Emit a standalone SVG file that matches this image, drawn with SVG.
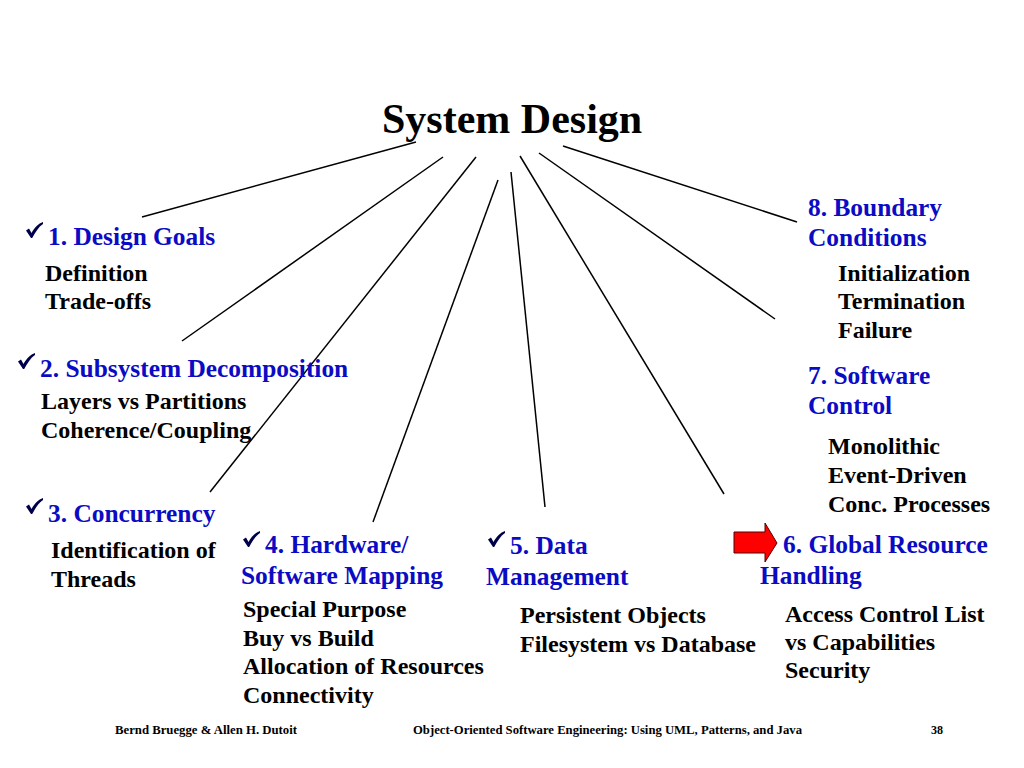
<svg xmlns="http://www.w3.org/2000/svg" width="1024" height="768" viewBox="0 0 1024 768">
<style>
text{font-family:"Liberation Serif","Times New Roman",serif;font-weight:bold}
.title{font-size:42px;fill:#000}
.h{font-size:25.4px;fill:#0b0bc4}
.b{font-size:24px;fill:#000}
.f{font-size:12px;fill:#000}
.conn line{stroke:#000;stroke-width:1.5;fill:none}
.chk{fill:#00004a}
</style>
<defs>
<path id="check" d="M0,8.5 L3,6.5 L5.5,11 C8.5,5.5 12.5,1.5 17,0 L17,2 C12.5,5 9.5,10 6.2,16 L5,16 Z"/>
</defs>
<rect width="1024" height="768" fill="#fff"/>
<g id="title"><text class="title" x="382" y="133">System Design</text></g>
<g id="connectors" class="conn">
<line x1="416" y1="142" x2="142" y2="217"/>
<line x1="443" y1="157" x2="182" y2="341"/>
<line x1="476" y1="157" x2="210" y2="492"/>
<line x1="498" y1="180" x2="373" y2="522"/>
<line x1="511" y1="172" x2="545" y2="507"/>
<line x1="520" y1="156" x2="724" y2="494"/>
<line x1="539" y1="153" x2="775" y2="319"/>
<line x1="563" y1="146" x2="797" y2="222"/>
</g>
<g id="node1">
<use href="#check" class="chk" x="26" y="222"/>
<text class="h" x="48" y="245">1. Design Goals</text>
<text class="b" x="45" y="281">Definition</text>
<text class="b" x="45" y="309">Trade-offs</text>
</g>
<g id="node2">
<use href="#check" class="chk" x="18" y="353"/>
<text class="h" x="40" y="377">2. Subsystem Decomposition</text>
<text class="b" x="41" y="409">Layers vs Partitions</text>
<text class="b" x="41" y="438">Coherence/Coupling</text>
</g>
<g id="node3">
<use href="#check" class="chk" x="26" y="498"/>
<text class="h" x="48" y="522">3. Concurrency</text>
<text class="b" x="51" y="558">Identification of</text>
<text class="b" x="51" y="587">Threads</text>
</g>
<g id="node4">
<use href="#check" class="chk" x="243" y="531"/>
<text class="h" x="265" y="553">4. Hardware/</text>
<text class="h" x="241" y="584">Software Mapping</text>
<text class="b" x="243" y="617">Special Purpose</text>
<text class="b" x="243" y="646">Buy vs Build</text>
<text class="b" x="243" y="674">Allocation of Resources</text>
<text class="b" x="243" y="703">Connectivity</text>
</g>
<g id="node5">
<use href="#check" class="chk" x="488" y="531"/>
<text class="h" x="510" y="554">5. Data</text>
<text class="h" x="486" y="585">Management</text>
<text class="b" x="520" y="623">Persistent Objects</text>
<text class="b" x="520" y="652">Filesystem vs Database</text>
</g>
<g id="node6">
<polygon points="734,532 765,532 765,523 777,543 765,562 765,553 734,553" fill="#f00" stroke="#500" stroke-width="1"/>
<text class="h" x="783" y="553">6. Global Resource</text>
<text class="h" x="760" y="584">Handling</text>
<text class="b" x="785" y="622">Access Control List</text>
<text class="b" x="785" y="650">vs Capabilities</text>
<text class="b" x="785" y="678">Security</text>
</g>
<g id="node7">
<text class="h" x="808" y="384">7. Software</text>
<text class="h" x="808" y="414">Control</text>
<text class="b" x="828" y="454">Monolithic</text>
<text class="b" x="828" y="483">Event-Driven</text>
<text class="b" x="828" y="512">Conc. Processes</text>
</g>
<g id="node8">
<text class="h" x="808" y="216">8. Boundary</text>
<text class="h" x="808" y="246">Conditions</text>
<text class="b" x="838" y="281">Initialization</text>
<text class="b" x="838" y="309">Termination</text>
<text class="b" x="838" y="338">Failure</text>
</g>
<g id="footer">
<text class="f" x="115" y="734" textLength="182" lengthAdjust="spacingAndGlyphs">Bernd Bruegge &amp; Allen H. Dutoit</text>
<text class="f" x="413" y="734" textLength="389" lengthAdjust="spacingAndGlyphs">Object-Oriented Software Engineering: Using UML, Patterns, and Java</text>
<text class="f" x="931" y="734" textLength="12" lengthAdjust="spacingAndGlyphs">38</text>
</g>
</svg>
